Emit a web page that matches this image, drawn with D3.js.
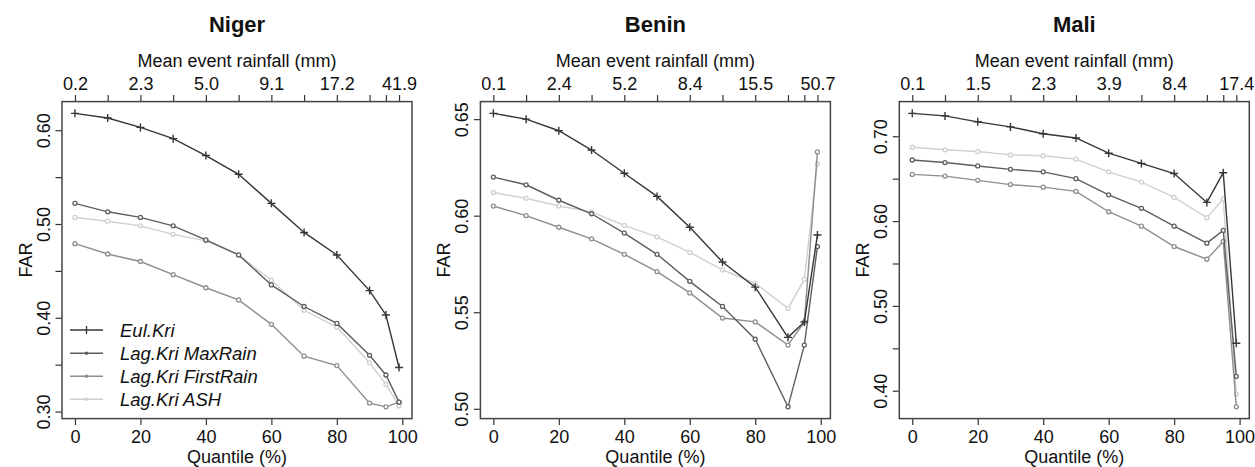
<!DOCTYPE html>
<html><head><meta charset="utf-8">
<script src="https://cdn.jsdelivr.net/npm/d3@7"></script>
<style>
html,body{margin:0;padding:0;background:#fff;}
text{font-family:"Liberation Sans",Arial,sans-serif;fill:#111;}
</style></head>
<body><svg id="chart" width="1255" height="467"></svg>
<script>
// ---- data ----
const quantiles = [0, 10, 20, 30, 40, 50, 60, 70, 80, 90, 95, 99];
const seriesNames = ["Eul.Kri", "Lag.Kri MaxRain", "Lag.Kri FirstRain", "Lag.Kri ASH"];
const seriesColors = ["#363636", "#5e5e5e", "#8e8e8e", "#d0d0d0"];
const panelTitles = ["Niger", "Benin", "Mali"];

const nigerEul       = [0.618, 0.613, 0.603, 0.591, 0.573, 0.553, 0.522, 0.491, 0.467, 0.429, 0.403, 0.347];
const nigerMaxRain   = [0.522, 0.513, 0.507, 0.498, 0.483, 0.467, 0.435, 0.412, 0.394, 0.360, 0.339, 0.310];
const nigerFirstRain = [0.479, 0.468, 0.460, 0.446, 0.432, 0.419, 0.393, 0.359, 0.349, 0.309, 0.305, 0.310];
const nigerASH       = [0.507, 0.503, 0.498, 0.489, 0.482, 0.467, 0.440, 0.408, 0.390, 0.352, 0.329, 0.306];

const beninEul       = [0.653, 0.650, 0.644, 0.634, 0.622, 0.610, 0.594, 0.576, 0.563, 0.537, 0.545, 0.590];
const beninMaxRain   = [0.620, 0.616, 0.608, 0.601, 0.591, 0.580, 0.566, 0.553, 0.536, 0.501, 0.533, 0.584];
const beninFirstRain = [0.605, 0.600, 0.594, 0.588, 0.580, 0.571, 0.560, 0.547, 0.545, 0.533, 0.545, 0.633];
const beninASH       = [0.612, 0.609, 0.605, 0.602, 0.595, 0.589, 0.581, 0.572, 0.565, 0.552, 0.567, 0.627];

const maliEul        = [0.727, 0.724, 0.717, 0.711, 0.703, 0.698, 0.680, 0.668, 0.656, 0.622, 0.657, 0.456];
const maliMaxRain    = [0.672, 0.669, 0.665, 0.661, 0.658, 0.650, 0.631, 0.615, 0.594, 0.574, 0.589, 0.417];
const maliFirstRain  = [0.655, 0.653, 0.648, 0.643, 0.640, 0.635, 0.611, 0.594, 0.570, 0.555, 0.576, 0.381];
const maliASH        = [0.687, 0.684, 0.682, 0.678, 0.677, 0.673, 0.658, 0.646, 0.628, 0.604, 0.626, 0.396];

const nigerTopLabels = ["0.2", "", "2.3", "", "5.0", "", "9.1", "", "17.2", "", "", "41.9"];
const beninTopLabels = ["0.1", "", "2.4", "", "5.2", "", "8.4", "", "15.5", "", "", "50.7"];
const maliTopLabels  = ["0.1", "", "1.5", "", "2.3", "", "3.9", "", "8.4", "", "", "17.4"];

const bottomTicks = [0, 20, 40, 60, 80, 100];
const nigerYTicks = [0.30, 0.35, 0.40, 0.45, 0.50, 0.55, 0.60];
const nigerYLabels = ["0.30", "", "0.40", "", "0.50", "", "0.60"];
const beninYTicks = [0.50, 0.55, 0.60, 0.65];
const beninYLabels = ["0.50", "0.55", "0.60", "0.65"];
const maliYTicks = [0.40, 0.45, 0.50, 0.55, 0.60, 0.65, 0.70];
const maliYLabels = ["0.40", "", "0.50", "", "0.60", "", "0.70"];

const panels = [
  {title: panelTitles[0], series: [nigerEul, nigerMaxRain, nigerFirstRain, nigerASH], top: nigerTopLabels, yt: nigerYTicks, yl: nigerYLabels, legend: true},
  {title: panelTitles[1], series: [beninEul, beninMaxRain, beninFirstRain, beninASH], top: beninTopLabels, yt: beninYTicks, yl: beninYLabels, legend: false},
  {title: panelTitles[2], series: [maliEul, maliMaxRain, maliFirstRain, maliASH], top: maliTopLabels, yt: maliYTicks, yl: maliYLabels, legend: false}
];

// ---- layout ----
const svg = d3.select("#chart");
const panelOffsets = [0, 418.4, 837.3];
const boxL = 62, boxW = 350, boxT = 101.6, boxH = 317;
const fs = 18;

function pad(ext) { const r = ext[1] - ext[0]; return [ext[0] - 0.04 * r, ext[1] + 0.04 * r]; }

panels.forEach((p, pi) => {
  const g = svg.append("g").attr("transform", `translate(${panelOffsets[pi]},0)`);
  const x = d3.scaleLinear().domain(pad(d3.extent(quantiles))).range([boxL, boxL + boxW]);
  const allV = p.series.flat();
  const y = d3.scaleLinear().domain(pad(d3.extent(allV))).range([boxT + boxH, boxT]);
  const cx = boxL + boxW / 2;

  // title
  g.append("text").attr("x", cx).attr("y", 31.5).attr("text-anchor", "middle")
    .style("font-size", "22px").style("font-weight", "bold").text(p.title);
  g.append("text").attr("x", cx).attr("y", 66.5).attr("text-anchor", "middle")
    .style("font-size", fs + "px").text("Mean event rainfall (mm)");
  g.append("text").attr("x", cx).attr("y", 463).attr("text-anchor", "middle")
    .style("font-size", fs + "px").text("Quantile (%)");
  g.append("text").attr("transform", `translate(31.5,${boxT + boxH / 2}) rotate(-90)`)
    .attr("text-anchor", "middle").style("font-size", fs + "px").text("FAR");

  // axes
  const axStyle = sel => {
    sel.select(".domain").remove();
    sel.selectAll(".tick line").attr("stroke", "#333").attr("stroke-width", 1.2);
    sel.selectAll(".tick text").style("font-size", fs + "px").style("font-family", "Liberation Sans, Arial, sans-serif").attr("fill", "#111");
  };
  const topAx = d3.axisTop(x).tickValues(quantiles).tickSize(6).tickPadding(5)
    .tickFormat((d, i) => p.top[i]);
  g.append("g").attr("transform", `translate(0,${boxT - 0.5})`).call(topAx).call(axStyle);
  const botAx = d3.axisBottom(x).tickValues(bottomTicks).tickSize(6).tickPadding(5).tickFormat(d3.format("d"));
  g.append("g").attr("transform", `translate(0,${boxT + boxH + 0.5})`).call(botAx).call(axStyle);
  const leftAx = d3.axisLeft(y).tickValues(p.yt).tickSize(6).tickPadding(0).tickFormat((d, i) => p.yl[i]);
  const lg = g.append("g").attr("transform", `translate(${boxL - 0.5},0)`).call(leftAx).call(axStyle);
  lg.selectAll(".tick text").attr("x", null).attr("dy", null)
    .attr("transform", "translate(-12,0) rotate(-90)").attr("text-anchor", "middle");

  // box
  g.append("rect").attr("x", boxL).attr("y", boxT).attr("width", boxW).attr("height", boxH)
    .attr("fill", "none").attr("stroke", "#444").attr("stroke-width", 1.5);

  // lines: draw lightest first
  const line = d3.line().x((d, i) => x(quantiles[i])).y(d => y(d));
  [3, 2, 1, 0].forEach(si => {
    const vals = p.series[si];
    const col = seriesColors[si];
    g.append("path").datum(vals).attr("d", line).attr("fill", "none")
      .attr("stroke", col).attr("stroke-width", 1.4);
    if (si === 0) {
      const m = g.append("g");
      vals.forEach((v, i) => {
        m.append("path").attr("d", `M${x(quantiles[i]) - 4},${y(v)}h8M${x(quantiles[i])},${y(v) - 4}v8`)
          .attr("stroke", col).attr("stroke-width", 1.4);
      });
    } else {
      g.selectAll(null).data(vals).enter().append("circle")
        .attr("cx", (d, i) => x(quantiles[i])).attr("cy", d => y(d)).attr("r", 2)
        .attr("fill", "#fff").attr("stroke", col).attr("stroke-width", 1.3);
    }
  });

  // legend
  if (p.legend) {
    const rows = [330, 353.3, 376.3, 399.3];
    seriesNames.forEach((nm, si) => {
      const yy = rows[si], col = seriesColors[si];
      g.append("line").attr("x1", 70).attr("x2", 103).attr("y1", yy).attr("y2", yy)
        .attr("stroke", col).attr("stroke-width", 1.6);
      if (si === 0) {
        g.append("line").attr("x1", 86.5).attr("x2", 86.5).attr("y1", yy - 4).attr("y2", yy + 4)
          .attr("stroke", col).attr("stroke-width", 1.3);
      } else {
        g.append("circle").attr("cx", 86.5).attr("cy", yy).attr("r", 1.8).attr("fill", col);
      }
      g.append("text").attr("x", 120).attr("y", yy + 6.8).style("font-size", "18.5px")
        .style("font-style", "italic").text(nm);
    });
  }
});
</script></body></html>
